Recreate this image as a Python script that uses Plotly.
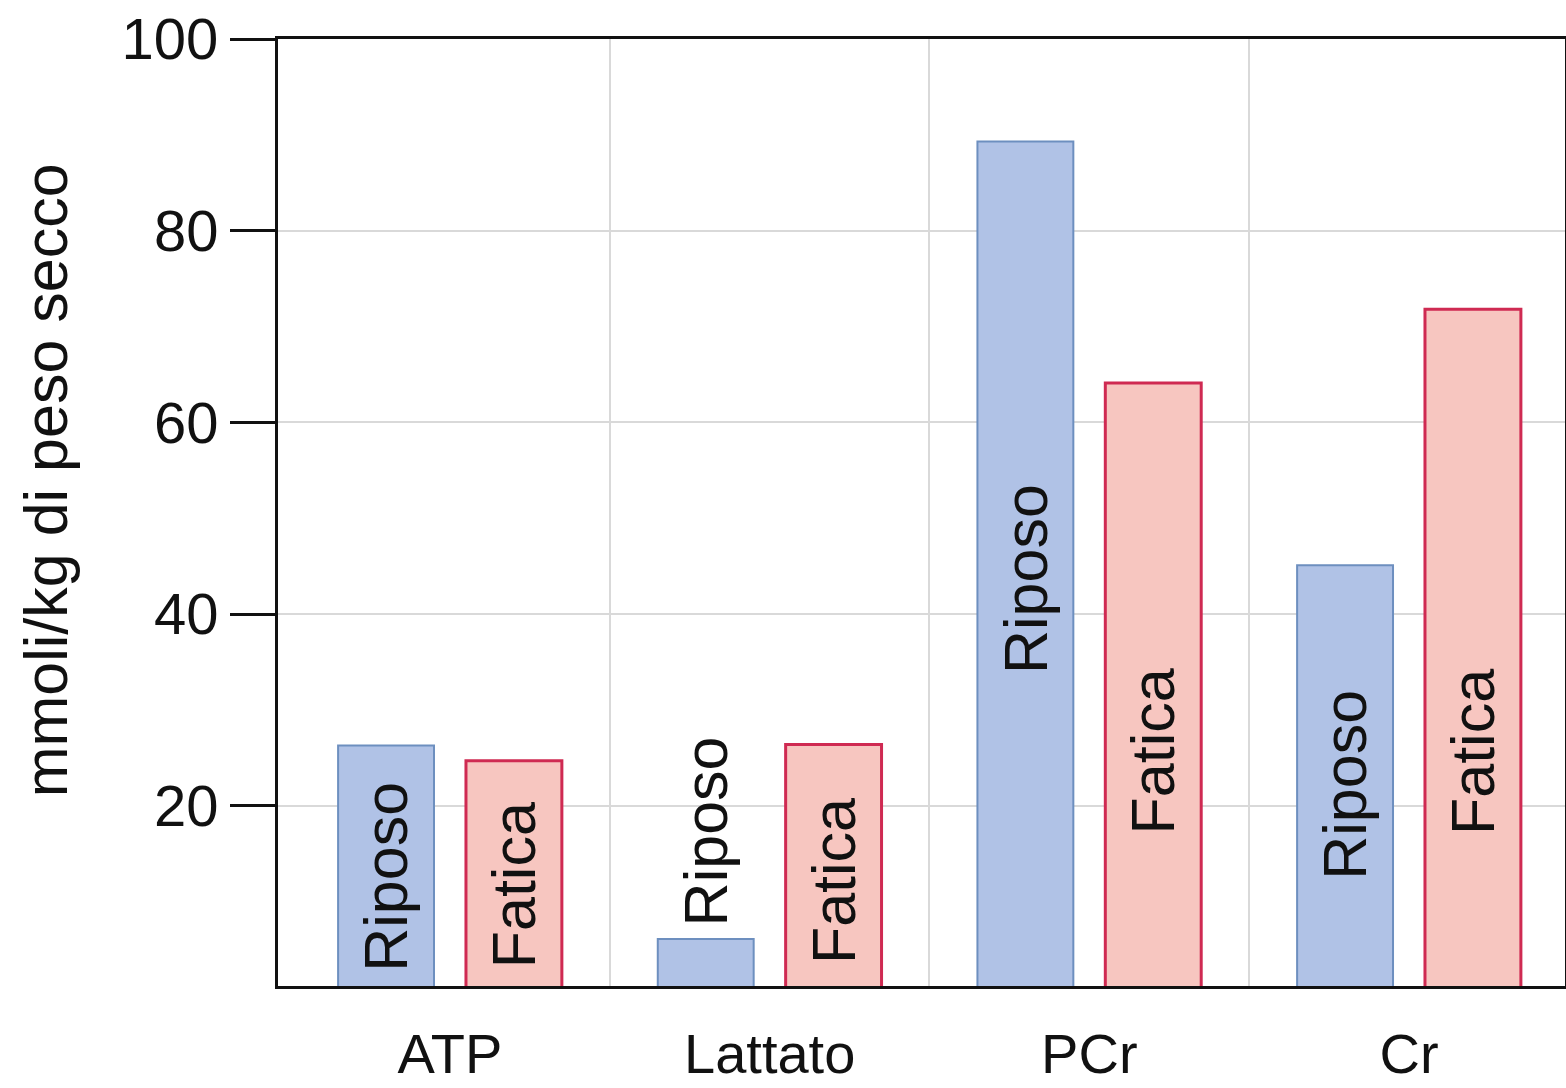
import plotly.graph_objects as go

# Metabolite concentrations in muscle, at rest vs. after fatigue
categories = ["ATP", "Lattato", "PCr", "Cr"]
riposo = [26.3, 6.1, 89.3, 45.1]
fatica = [24.7, 26.4, 64.1, 71.8]
series_names = ["Riposo", "Fatica"]

# Vertical placement of the in-bar labels (data units, label centre)
riposo_label_y = [12.6, 17.3, 43.7, 22.2]
fatica_label_y = [11.7, 12.1, 25.7, 25.6]

y_ticks = [20, 40, 60, 80, 100]

FONT = "Liberation Sans, Arial, Helvetica, sans-serif"
idx = list(range(len(categories)))

fig = go.Figure()
fig.add_trace(go.Bar(
    x=idx, y=riposo, name=series_names[0],
    marker=dict(color="#b0c2e6", line=dict(color="#6d8fbf", width=2)),
))
fig.add_trace(go.Bar(
    x=idx, y=fatica, name=series_names[1],
    marker=dict(color="#f7c6c0", line=dict(color="#cf2a52", width=3)),
))

# Rotated series names on/above each bar
annotations = []
for i in idx:
    annotations.append(dict(
        x=i - 0.2, y=riposo_label_y[i], xref="x", yref="y",
        text=series_names[0], textangle=-90, showarrow=False,
        font=dict(family=FONT, size=61, color="#111111"),
    ))
    annotations.append(dict(
        x=i + 0.2, y=fatica_label_y[i], xref="x", yref="y",
        text=series_names[1], textangle=-90, showarrow=False,
        font=dict(family=FONT, size=61, color="#111111"),
    ))

# Y-axis title
annotations.append(dict(
    x=0, xref="paper", xshift=-232, xanchor="center",
    y=0.534, yref="paper", yanchor="middle",
    text="mmoli/kg di peso secco", textangle=-90, showarrow=False,
    font=dict(family=FONT, size=61, color="#111111"),
))

fig.update_layout(
    width=1566, height=1088,
    margin=dict(l=278, r=1, t=39, b=102),
    paper_bgcolor="white", plot_bgcolor="white",
    barmode="group", bargap=0.2, bargroupgap=0.25,
    showlegend=False,
    annotations=annotations,
    font=dict(family=FONT, color="#111111"),
)

fig.update_xaxes(
    range=[-0.538, 3.488], automargin=False,
    tickmode="array", tickvals=idx, ticktext=categories,
    tickfont=dict(family=FONT, size=56, color="#111111"),
    ticks="outside", ticklen=17, tickcolor="rgba(0,0,0,0)",
    showgrid=False, zeroline=False,
    showline=True, linecolor="#111111", linewidth=3, mirror=True,
    minor=dict(tickmode="array", tickvals=[0.5, 1.5, 2.5],
               showgrid=True, gridcolor="#d9d9d9", gridwidth=2, ticks=""),
)

fig.update_yaxes(
    range=[1.2, 100], automargin=False,
    tickmode="array", tickvals=y_ticks,
    tickfont=dict(family=FONT, size=58, color="#111111"),
    ticks="outside", ticklen=45, tickwidth=3, tickcolor="#111111",
    showgrid=True, gridcolor="#d9d9d9", gridwidth=2, zeroline=False,
    showline=True, linecolor="#111111", linewidth=3, mirror=True,
)

fig.write_html("out.html")
